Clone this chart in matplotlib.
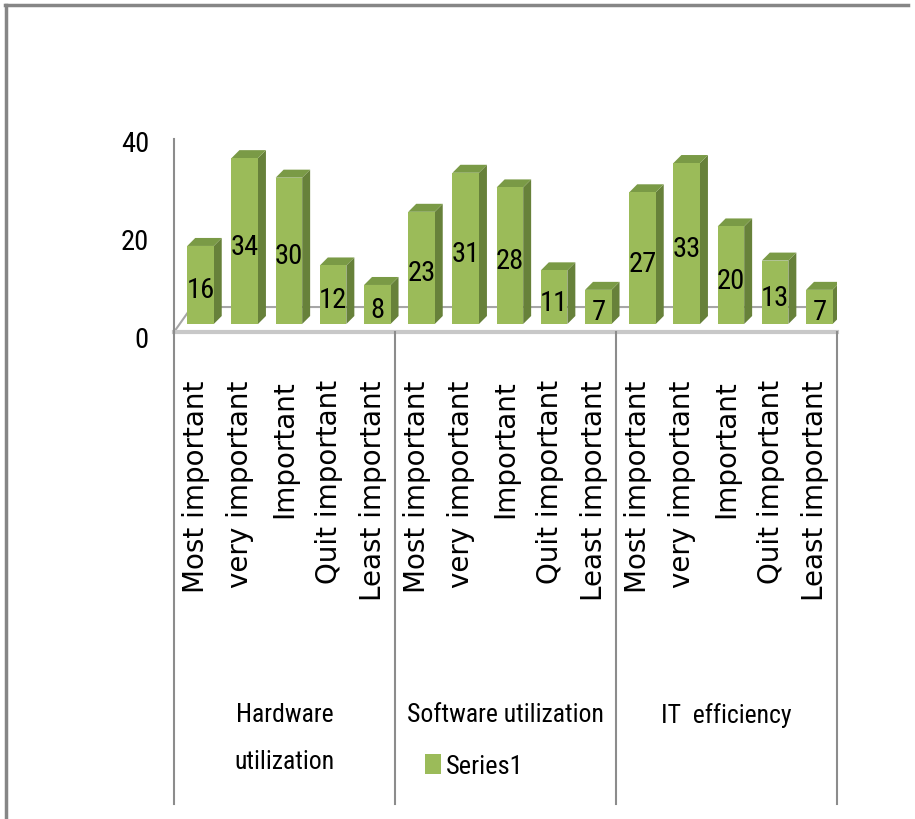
import numpy as np
import matplotlib
matplotlib.use("Agg")
import matplotlib.pyplot as plt
from matplotlib import font_manager as fm
from matplotlib.patches import Polygon
from matplotlib.lines import Line2D
from matplotlib.transforms import ScaledTranslation

groups = ["Hardware\nutilization", "Software utilization", "IT  efficiency"]
levels = ["Most important", "very important", "Important", "Quit important", "Least important"]
hardware = [16, 34, 30, 12, 8]
software = [23, 31, 28, 11, 7]
it_eff = [27, 33, 20, 13, 7]

values = hardware + software + it_eff
labels = levels * 3

# pick a narrow face (the original is Calibri, squeezed)
names = {(f.name, f.stretch) for f in fm.fontManager.ttflist}
nfont = {"family": "Liberation Sans", "stretch": "normal"}
for fam in ["Liberation Sans Narrow", "Roboto Condensed", "Open Sans Condensed"]:
    if any(n == fam for n, _ in names):
        nfont = {"family": fam, "stretch": "normal"}
        break
else:
    if ("DejaVu Sans", "condensed") in names:
        nfont = {"family": "DejaVu Sans", "stretch": "condensed"}
is_narrow = nfont["family"] != "Liberation Sans"
k = 1.0 if is_narrow else 0.85

front_c, side_c, top_c = "#9BBB59", "#67813A", "#7A9A46"

fig = plt.figure(figsize=(9.15, 8.2), dpi=100)
ax = fig.add_axes([174 / 915, (820 - 333) / 820, 663 / 915, 208 / 820])

x = np.arange(len(values))
ax.set_xlim(-0.5, len(values) - 0.5)
ax.set_ylim(-1.64, 41)
for s in ax.spines.values():
    s.set_visible(False)

# 3d-ish floor
dxf, ybk = 0.45, 3.48
floor = Polygon([(-0.5, -1.64), (14.5, -1.64), (14.5 + dxf, ybk), (-0.5 + 0.4, ybk)],
                closed=True, facecolor="white", edgecolor="#A6A6A6", lw=1.5, zorder=1)
ax.add_patch(floor)
ax.plot([-0.5, 14.5], [-1.64, -1.64], color="#C8C8C8", lw=3, zorder=1.5, clip_on=False)

# bars: front face + side + top
w, ddx, ddy = 0.6, 0.18, 1.64
bars = ax.bar(x + 0.1, values, width=w, color=front_c, zorder=3, label="Series1")
for b in bars:
    x0, x1, h = b.get_x(), b.get_x() + b.get_width(), b.get_height()
    ax.add_patch(Polygon([(x1, 0), (x1 + ddx, ddy), (x1 + ddx, h + ddy), (x1, h)],
                         facecolor=side_c, edgecolor="none", zorder=2.9))
    ax.add_patch(Polygon([(x0, h), (x1, h), (x1 + ddx, h + ddy), (x0 + ddx, h + ddy)],
                         facecolor=top_c, edgecolor="none", zorder=2.9))

lbls = ax.bar_label(bars, label_type="center", fontsize=20.5 * k, color="black", **nfont)
for t in lbls:
    t.xyann = (0, -3.6)

# y axis line and labels
ax.plot([-0.5, -0.5], [-1.64, 37.9], color="#8C8C8C", lw=1.5, clip_on=False, zorder=2)
ax.set_yticks([0, 20, 40])
ax.set_yticklabels(["0", "20", "40"], fontsize=20.5 * k, **nfont)
ax.tick_params(axis="y", length=0, pad=18)
for t in ax.get_yticklabels():
    t.set_transform(t.get_transform() + ScaledTranslation(0, -0.12, fig.dpi_scale_trans))

# category labels
ax.set_xticks(x)
ax.set_xticklabels(labels, rotation=90, fontsize=20, family="DejaVu Sans", va="top")
ax.tick_params(axis="x", length=0, pad=34)

# group separators and names
for gx in [-0.5, 4.5, 9.5, 14.5]:
    ax.axvline(gx, ymin=-2.27, ymax=0, color="#8C8C8C", lw=1.5, clip_on=False)
for i, g in enumerate(groups):
    ax.text(i * 5 + 2, -1.64, g, ha="center", va="top", fontsize=18.5 * k,
            linespacing=2.2, **nfont,
            transform=ax.transData + ScaledTranslation(0, -3.70, fig.dpi_scale_trans))

ax.legend(loc="center left", bbox_to_anchor=(425 / 915, 1 - 767 / 820),
          bbox_transform=fig.transFigure, frameon=False,
          prop={"family": nfont["family"], "stretch": nfont["stretch"], "size": 19 * k},
          handlelength=0.6, handleheight=0.8, handletextpad=0.2, borderpad=0, borderaxespad=0)

# outer frame (top and left edges)
fig.add_artist(Line2D([5 / 915, 908 / 915], [1 - 6 / 820, 1 - 6 / 820], color="#868686", lw=2.5))
fig.add_artist(Line2D([6 / 915, 6 / 915], [0, 1 - 6 / 820], color="#868686", lw=2.5))

fig.savefig("out.png", dpi=100)
